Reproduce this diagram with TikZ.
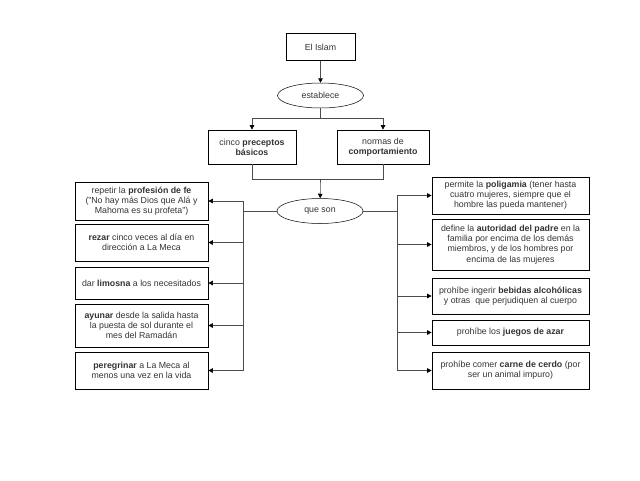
\documentclass[tikz,border=0pt]{standalone}
\usepackage{fontspec}
\setmainfont{Liberation Sans}
\usepackage{xcolor}
\usepackage{tikz}
\usetikzlibrary{shapes,arrows.meta,positioning}

\begin{document}
\begin{tikzpicture}[
    x=1pt, y=-1pt,
    box/.style={draw, rectangle, line width=0.7pt, text=black!80, align=center, inner sep=2pt, font=\fontsize{8.8}{10.2}\selectfont},
    oval/.style={draw, ellipse, line width=0.5pt, text=black!80, minimum width=86pt, minimum height=25pt, font=\fontsize{8.8}{10.2}\selectfont},
    leftbox/.style={box, minimum width=133pt},
    rightbox/.style={box, minimum width=157pt},
    link/.style={draw=black!70, line width=0.6pt},
    arrow/.style={link, -{Triangle[length=4.5pt,width=4.5pt,color=black]}}
]
\useasboundingbox (0,0) rectangle (640,480);

\node[box, minimum width=69pt, minimum height=27pt] (islam) at (320.5,47) {El Islam};
\node[oval] (establece) at (320.5,95.5) {establece};
\node[box, minimum width=88pt, minimum height=34pt] (cinco) at (252,147) {cinco \textbf{preceptos}\\\textbf{básicos}};
\node[box, minimum width=92pt, minimum height=34pt] (normas) at (383,147) {normas de\\\textbf{comportamiento}};
\node[oval] (queson) at (320,211) {que son};

% preceptos
\node[leftbox, minimum height=38pt] (rezo0) at (141.5,201) {repetir la \textbf{profesión de fe}\\("No hay más Dios que Alá y\\Mahoma es su profeta")};
\node[leftbox, minimum height=37pt] (rezo1) at (141.5,242.5) {\textbf{rezar} cinco veces al día en\\dirección a La Meca};
\node[leftbox, minimum height=32pt] (rezo2) at (141.5,283) {dar \textbf{limosna} a los necesitados};
\node[leftbox, minimum height=43pt] (rezo3) at (141.5,325.5) {\textbf{ayunar} desde la salida hasta\\la puesta de sol durante el\\mes del Ramadán};
\node[leftbox, minimum height=37pt] (rezo4) at (141.5,370.5) {\textbf{peregrinar} a La Meca al\\menos una vez en la vida};

% normas
\node[rightbox, minimum height=37pt] (norma0) at (510.5,195.5) {permite la \textbf{poligamia} (tener hasta\\cuatro mujeres, siempre que el\\hombre las pueda mantener)};
\node[rightbox, minimum height=51pt] (norma1) at (510.5,244.5) {define la \textbf{autoridad del padre} en la\\familia por encima de los demás\\miembros, y de los hombres por\\encima de las mujeres};
\node[rightbox, minimum height=36pt] (norma2) at (510.5,296) {prohíbe ingerir \textbf{bebidas alcohólicas}\\y otras\ \ que perjudiquen al cuerpo};
\node[rightbox, minimum height=25pt] (norma3) at (510.5,332.5) {prohíbe los \textbf{juegos de azar}};
\node[rightbox, minimum height=37pt] (norma4) at (510.5,370.5) {prohíbe comer \textbf{carne de cerdo} (por\\ser un animal impuro)};

\coordinate (split) at (320.5,118);
\coordinate (join) at (320.5,179);
\coordinate (lt) at (243,211);
\coordinate (rt) at (397,211);

\draw[arrow] (islam) -- (establece);
\draw[link] (establece) -- (split);
\draw[arrow] (split) -| (cinco);
\draw[arrow] (split) -| (normas);
\draw[link] (cinco.south) |- (join);
\draw[link] (normas.south) |- (join);
\draw[arrow] (join) -- (queson);

\draw[link] (queson.west) -- (lt);
\draw[link] (queson.east) -- (rt);
\foreach \i in {0,...,4} {
    \draw[arrow] (lt) |- (rezo\i.east);
    \draw[arrow] (rt) |- (norma\i.west);
}

\end{tikzpicture}
\end{document}
